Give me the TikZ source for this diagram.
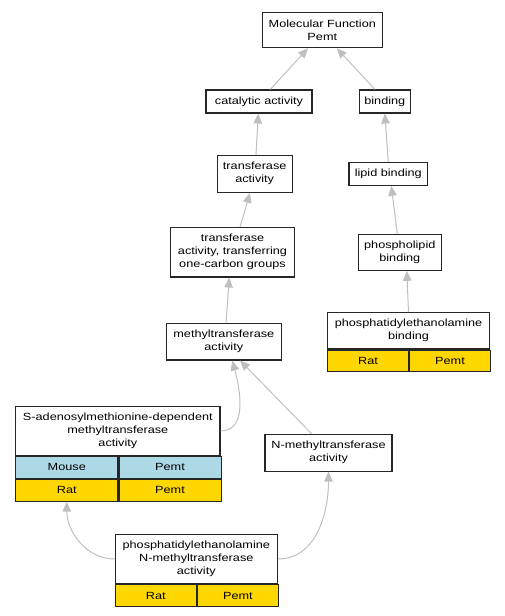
\documentclass[tikz,border=0pt]{standalone}
\usepackage{fontspec}
\setmainfont{Liberation Sans}[FakeStretch=1.22]
\usetikzlibrary{arrows.meta}
\definecolor{goldcell}{HTML}{FFD700}
\definecolor{bluecell}{HTML}{ADD8E6}
\tikzset{
  term/.style={draw=black!85, line width=1.1pt, fill=white, align=center, inner sep=1pt},
  cell/.style={draw=black!85, line width=1.1pt, inner sep=0pt, anchor=north west, minimum height=21.8pt},
  isa/.style={draw=black!25, line width=1pt, -{Triangle[length=10pt,width=8.5pt]}}
}
\begin{document}
\begin{tikzpicture}[x=1pt,y=1pt,font=\fontsize{10.4}{13}\selectfont]
  \useasboundingbox (0,0) rectangle (504,-616);

  % Draw the terms
  \node[term, minimum width=120pt, minimum height=35.4pt] (mf) at (322.3,-30) {Molecular Function\\Pemt};
  \node[term, minimum width=106pt, minimum height=23pt] (cat) at (259,-101.5) {catalytic activity};
  \node[term, minimum width=51pt, minimum height=23pt] (bind) at (384.8,-101.5) {binding};
  \node[term, minimum width=75.3pt, minimum height=37pt] (trans) at (254.7,-173.8) {transferase\\activity};
  \node[term, minimum width=78.7pt, minimum height=23pt] (lipid) at (388.3,-173.8) {lipid binding};
  \node[term, minimum width=123.6pt, minimum height=49.3pt] (onec) at (232.5,-252.3) {transferase\\activity, transferring\\one-carbon groups};
  \node[term, minimum width=83pt, minimum height=36pt] (phosph) at (399.8,-252.3) {phospholipid\\binding};
  \node[term, minimum width=115pt, minimum height=36.3pt] (methyl) at (223.8,-341.8) {methyltransferase\\activity};
  \node[term, minimum width=127pt, minimum height=36.7pt] (nmt) at (328.5,-452.7) {N-methyltransferase\\activity};

  % Draw the annotated terms and their tables
  \node[term, minimum width=161.6pt, minimum height=36.3pt] (peb) at (408.5,-330.8) {phosphatidylethanolamine\\binding};
  \node[cell, fill=goldcell, minimum width=80.8pt] (peb-rat) at (peb.south west) {Rat};
  \node[cell, fill=goldcell, minimum width=80.8pt] (peb-gene) at (peb-rat.north east) {Pemt};

  \node[term, minimum width=204.3pt, minimum height=48.6pt] (sam) at (117.85,-431) {S-adenosylmethionine-dependent\\methyltransferase\\activity};
  \node[cell, fill=bluecell, minimum width=102.15pt] (sam-mouse) at (sam.south west) {Mouse};
  \node[cell, fill=bluecell, minimum width=102.15pt] (sam-mgene) at (sam-mouse.north east) {Pemt};
  \node[cell, fill=goldcell, minimum width=102.15pt] (sam-rat) at (sam-mouse.south west) {Rat};
  \node[cell, fill=goldcell, minimum width=102.15pt] (sam-rgene) at (sam-rat.north east) {Pemt};

  \node[term, minimum width=162pt, minimum height=49.4pt] (pem) at (196.3,-559) {phosphatidylethanolamine\\N-methyltransferase\\activity};
  \node[cell, fill=goldcell, minimum width=81pt] (pem-rat) at (pem.south west) {Rat};
  \node[cell, fill=goldcell, minimum width=81pt] (pem-gene) at (pem-rat.north east) {Pemt};

  % Draw the is-a links
  \draw[isa] ([xshift=11.3pt]cat.north) -- ([xshift=-14.3pt]mf.south);
  \draw[isa] ([xshift=-9.8pt]bind.north) -- ([xshift=14.4pt]mf.south);
  \draw[isa] ([xshift=1.3pt]trans.north) -- ([xshift=-0.7pt]cat.south);
  \draw[isa] (lipid.north) -- (bind.south);
  \draw[isa] ([xshift=7.5pt]onec.north) -- ([xshift=-4.7pt]trans.south);
  \draw[isa] ([xshift=-2.5pt]phosph.north) -- ([xshift=3pt]lipid.south);
  \draw[isa] ([xshift=2.2pt]methyl.north) -- ([xshift=-3.2pt]onec.south);
  \draw[isa] (peb.north) -- ([xshift=7pt]phosph.south);
  \draw[isa] (sam.east) to[out=0,in=-75] ([xshift=8.5pt]methyl.south);
  \draw[isa] ([xshift=-16.8pt]nmt.north) -- ([xshift=16.2pt]methyl.south);
  \draw[isa] (pem.west) to[out=180,in=-90] (sam-rat.south);
  \draw[isa] (pem.east) to[out=0,in=-90] (nmt.south);
\end{tikzpicture}
\end{document}
